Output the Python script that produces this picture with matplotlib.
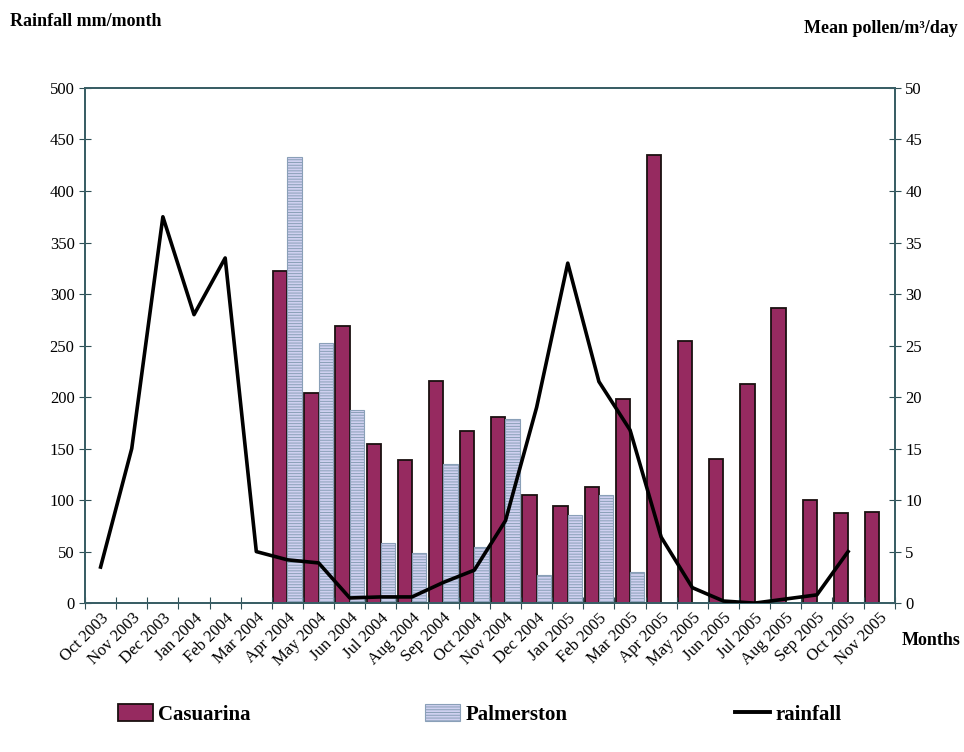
import matplotlib
matplotlib.use("Agg")
import matplotlib.pyplot as plt
import numpy as np
from matplotlib.patches import Patch
from matplotlib.lines import Line2D

plt.rcParams['font.family'] = ['Liberation Serif', 'DejaVu Serif']

months = ["Oct 2003", "Nov 2003", "Dec 2003", "Jan 2004", "Feb 2004", "Mar 2004",
          "Apr 2004", "May 2004", "Jun 2004", "Jul 2004", "Aug 2004", "Sep 2004",
          "Oct 2004", "Nov 2004", "Dec 2004", "Jan 2005", "Feb 2005", "Mar 2005",
          "Apr 2005", "May 2005", "Jun 2005", "Jul 2005", "Aug 2005", "Sep 2005",
          "Oct 2005", "Nov 2005"]

# Mean pollen/m3/day (right axis)
casuarina = [np.nan, np.nan, np.nan, np.nan, np.nan, np.nan,
             32.2, 20.4, 26.9, 15.4, 13.9, 21.6,
             16.7, 18.1, 10.5, 9.4, 11.3, 19.8,
             43.5, 25.4, 14.0, 21.3, 28.6, 10.0,
             8.7, 8.8]
palmerston = [np.nan, np.nan, np.nan, np.nan, np.nan, np.nan,
              43.3, 25.2, 18.7, 5.8, 4.9, 13.5,
              5.4, 17.9, 2.7, 8.6, 10.5, 3.0,
              np.nan, np.nan, np.nan, np.nan, np.nan, np.nan,
              np.nan, np.nan]
# Rainfall mm/month (left axis)
rainfall = [35, 150, 375, 280, 335, 50,
            42, 39, 5, 6, 6, 20,
            32, 80, 190, 330, 215, 168,
            64, 15, 2, 0, 4, 8,
            50, np.nan]

fig = plt.figure(figsize=(9.64, 7.52), dpi=100)
fig.patch.set_facecolor('white')
ax = fig.add_axes([0.0882, 0.198, 0.840, 0.685])
ax2 = ax.twinx()

x = np.arange(len(months))
w = 0.46
cas_color = '#962a60'
pal_color = '#cfd0f0'
plt.rcParams['hatch.color'] = '#8f9fd6'
plt.rcParams['hatch.linewidth'] = 0.7

ax2.bar(x - w / 2, casuarina, width=w, color=cas_color, edgecolor='#1a1010', linewidth=1.3)
ax2.bar(x + w / 2, palmerston, width=w, color=pal_color, edgecolor='#8aa0b8', linewidth=0.8,
        hatch='------')

ax.plot(x, rainfall, color='black', linewidth=2.6, zorder=5)
ax.set_zorder(ax2.get_zorder() + 1)
ax.patch.set_visible(False)

ax.set_xlim(-0.5, len(months) - 0.5)
ax.set_ylim(0, 500)
ax2.set_ylim(0, 50)
ax.set_yticks(np.arange(0, 501, 50))
ax2.set_yticks(np.arange(0, 51, 5))

ax.set_xticks(np.arange(len(months) + 1) - 0.5, minor=False)
ax.set_xticklabels([])
ax.set_xticks(x, minor=True)
ax.set_xticklabels(months, minor=True, rotation=45, ha='right', rotation_mode='anchor',
                   fontsize=12)
ax.tick_params(axis='x', which='minor', length=0, pad=5)
ax.tick_params(axis='x', which='major', direction='inout', length=8, color='#2f4f55')
ax.tick_params(axis='y', direction='inout', length=8, labelsize=12, color='#2f4f55')
ax2.tick_params(axis='y', direction='inout', length=8, labelsize=12, color='#2f4f55')

spine_color = '#3a5f66'
for a in (ax, ax2):
    for s in a.spines.values():
        s.set_color(spine_color)
        s.set_linewidth(1.4)

fig.text(0.010, 0.972, "Rainfall mm/month", fontsize=13, fontweight='bold', va='center', ha='left')
fig.text(0.994, 0.962, "Mean pollen/m³/day", fontsize=13, fontweight='bold',
         va='center', ha='right')
fig.text(0.996, 0.148, "Months", fontsize=13, fontweight='bold', va='center', ha='right')

leg_kw = dict(frameon=False, handlelength=1.7, handleheight=0.9, handletextpad=0.25,
              prop={'weight': 'bold', 'size': 15})
fig.legend(handles=[Patch(facecolor=cas_color, edgecolor='#1a1010', linewidth=1.3, label='Casuarina')],
           loc='center left', bbox_to_anchor=(0.1027, 0.050), **leg_kw)
fig.legend(handles=[Patch(facecolor=pal_color, edgecolor='#8aa0b8', hatch='------', linewidth=0.8,
                          label='Palmerston')],
           loc='center left', bbox_to_anchor=(0.421, 0.050), **leg_kw)
fig.legend(handles=[Line2D([0], [0], color='black', linewidth=2.8, label='rainfall')],
           loc='center left', bbox_to_anchor=(0.743, 0.050), **leg_kw)

fig.savefig("out.png", dpi=100, facecolor='white')
